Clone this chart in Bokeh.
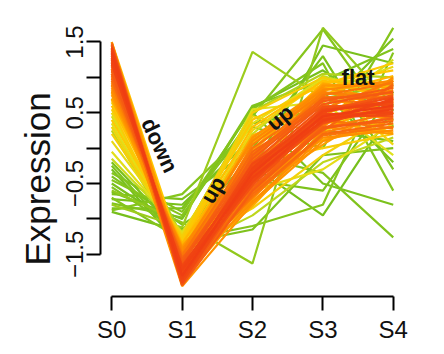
import numpy as np
from bokeh.plotting import figure
from bokeh.models import FixedTicker, Label, Title
from bokeh.embed import file_html
from bokeh.resources import INLINE

# ---------------- data ----------------
stages = ["S0", "S1", "S2", "S3", "S4"]

# expression values per stage, one entry per gene
s0 = [
    # deep red core
    1.35, 1.28, 1.42, 1.20, 1.31, 1.38, 1.25, 1.33, 1.18, 1.40, 1.26, 1.36, 1.22, 1.30, 1.45,
    # red-orange
    1.10, 1.46, 1.05, 1.15, 1.48, 0.98, 1.12, 1.40, 1.02, 1.24, 0.95, 1.34, 1.08, 1.44, 0.90, 1.16, 1.00, 1.37, 0.92, 1.28,
    # orange
    0.85, 1.50, 0.80, 1.12, 0.88, 1.48, 0.75, 1.20, 0.82, 1.38, 0.70, 1.05, 0.95, 1.42, 0.78, 1.18, 0.68, 1.30,
    # yellow
    0.60, 1.50, 0.40, 0.55, 0.20, 1.05, 0.30, 0.65, 0.10, 0.50, -0.05, 0.35, 0.45, -0.15, 0.25, 0.70,
    # green
    -0.80, -0.60, -0.45, -0.88, -0.70, -0.35, -0.55, -0.78, -0.25, -0.65, -0.40, -0.85, -0.20, -0.50, -0.72, -0.30, -0.62, -0.90,
]
s1 = [
    -1.80, -1.72, -1.85, -1.68, -1.77, -1.90, -1.75, -1.82, -1.66, -1.88, -1.70, -1.79, -1.73, -1.84, -1.93,
    -1.62, -1.94, -1.58, -1.70, -1.86, -1.55, -1.64, -1.78, -1.60, -1.90, -1.52, -1.68, -1.57, -1.92, -1.50, -1.80, -1.62, -1.74, -1.48, -1.86,
    -1.45, -1.80, -1.42, -1.95, -1.55, -1.60, -1.40, -1.50, -1.68, -1.62, -1.38, -1.88, -1.44, -1.70, -1.52, -1.92, -1.35, -1.58,
    -1.35, -1.50, -1.30, -1.48, -1.25, -1.40, -1.42, -1.32, -1.22, -1.55, -1.20, -1.38, -1.28, -1.18, -1.45, -1.25,
    -1.12, -1.05, -0.95, -0.65, -1.30, -0.90, -1.20, -0.98, -1.35, -0.72, -1.08, -0.85, -1.25, -1.15, -0.80, -1.40, -1.00, -1.18,
]
s2 = [
    -0.35, -0.42, -0.28, -0.30, -0.48, -0.38, -0.22, -0.45, -0.33, -0.40, -0.26, -0.52, -0.36, -0.30, -0.44,
    -0.20, -0.60, -0.15, -0.55, -0.10, -0.48, -0.05, -0.65, -0.25, -0.58, 0.00, -0.68, -0.12, -0.50, -0.32, -0.62, 0.05, -0.70, -0.08, -0.18,
    0.10, -0.75, -0.40, -0.78, 0.15, -0.70, -0.15, 0.12, -0.60, -0.05, -0.30, -0.72, 0.18, -0.82, -0.02, -0.45, 0.08, -0.35,
    0.30, -0.50, 0.40, -0.20, 0.50, -0.85, 0.25, 0.45, 0.10, -0.60, 0.35, 0.55, -0.35, 0.20, -0.95, 0.52,
    1.36, -1.63, 0.45, 0.30, -1.10, 0.55, -0.10, 0.60, -1.15, 0.00, -0.45, 0.35, 0.50, -0.30, 0.15, -0.80, 0.58, -0.25,
]
s3 = [
    0.45, 0.40, 0.52, 0.38, 0.48, 0.55, 0.42, 0.36, 0.50, 0.44, 0.58, 0.40, 0.47, 0.53, 0.35,
    0.62, 0.28, 0.66, 0.30, 0.70, 0.25, 0.60, 0.20, 0.72, 0.33, 0.68, 0.18, 0.75, 0.40, 0.55, 0.28, 0.78, 0.22, 0.62, 0.80,
    0.82, 0.15, 0.30, 0.10, 0.85, 0.30, 0.88, 0.72, 0.05, 0.90, 0.45, 0.38, 0.60, 0.25, 0.92, 0.12, 0.76, 0.85,
    0.95, 0.92, 0.90, 0.00, 1.00, -0.10, 0.95, 0.20, 0.80, -0.30, 0.98, 0.65, 0.50, 1.02, -0.20, 1.05,
    0.70, 1.70, 1.68, 0.00, -0.80, 1.20, -0.35, 0.95, -0.10, 1.30, -0.60, 0.55, -0.50, 1.45, 0.80, 0.25, 1.10, -0.95,
]
s4 = [
    0.60, 0.55, 0.66, 0.70, 0.50, 0.62, 0.48, 0.58, 0.72, 0.52, 0.64, 0.68, 0.45, 0.75, 0.60,
    0.80, 0.42, 0.85, 0.38, 0.78, 0.90, 0.55, 0.35, 0.70, 0.88, 0.62, 0.30, 0.92, 0.28, 0.95, 0.50, 0.72, 0.45, 0.82, 0.58,
    0.95, 0.25, 1.00, 0.40, 0.68, 0.20, 0.90, 0.48, 0.65, 0.85, 0.98, 0.22, 0.40, 0.70, 0.75, 0.30, 1.02, 0.95,
    0.85, 1.10, 1.20, 0.20, 0.65, 0.50, 0.05, 0.95, 1.15, 0.35, 0.90, -0.10, 1.25, 0.75, 0.15, 1.00,
    0.90, 0.60, 0.30, 1.70, 1.35, -0.60, -1.26, 1.40, 0.00, -0.30, 0.80, 1.55, -0.80, 1.20, -0.20, 0.10, 0.40, 0.55,
]
# cluster membership of each gene
membership = [
    0.95, 0.94, 0.93, 0.93, 0.92, 0.91, 0.91, 0.90, 0.90, 0.89, 0.88, 0.88, 0.87, 0.86, 0.86,
    0.85, 0.84, 0.84, 0.83, 0.83, 0.82, 0.82, 0.81, 0.80, 0.80, 0.79, 0.79, 0.78, 0.78, 0.77, 0.77, 0.76, 0.76, 0.75, 0.75,
    0.74, 0.73, 0.73, 0.72, 0.72, 0.71, 0.71, 0.70, 0.70, 0.69, 0.68, 0.68, 0.67, 0.67, 0.66, 0.66, 0.65, 0.65,
    0.63, 0.62, 0.61, 0.60, 0.59, 0.58, 0.57, 0.56, 0.55, 0.54, 0.53, 0.52, 0.51, 0.50, 0.49, 0.48,
    0.46, 0.45, 0.44, 0.43, 0.42, 0.41, 0.40, 0.39, 0.38, 0.37, 0.36, 0.35, 0.34, 0.33, 0.32, 0.31, 0.30, 0.30,
]

y_ticks_labelled = [-1.5, -0.5, 0.5, 1.5]
y_ticks_unlabelled = [-1.0, 0.0, 1.0]
y_tick_text = ["\u22121.5", "\u22120.5", "0.5", "1.5"]
y_title = "Expression"

notes = ["down", "up", "up", "flat"]
note_x = [0.68, 1.44, 2.39, 3.50]
note_y = [0.04, -0.59, 0.43, 1.00]
note_angle_deg = [-65, 60, 40, 0]

# colour ramp (membership -> colour): green -> yellow -> orange -> red
ramp = ["#76bf1c", "#86c51d", "#dfe11c", "#ffc600", "#ff9200", "#f55a12", "#ef3e12"]
ramp_stops = [0.30, 0.44, 0.52, 0.62, 0.72, 0.85, 0.95]

# ---------------- helpers ----------------
def hex_to_rgb(h):
    h = h.lstrip("#")
    return np.array([int(h[i:i + 2], 16) for i in (0, 2, 4)], dtype=float)

ramp_rgb = np.array([hex_to_rgb(c) for c in ramp])

def colour_for(m):
    rgb = [np.interp(m, ramp_stops, ramp_rgb[:, k]) for k in range(3)]
    return "#%02x%02x%02x" % tuple(int(round(v)) for v in rgb)

vals = np.array([s0, s1, s2, s3, s4]).T
mem = np.array(membership)
order = np.argsort(mem, kind="stable")
xs_pos = list(range(len(stages)))
xs = [xs_pos for _ in order]
ys = [list(vals[i]) for i in order]
cols = [colour_for(mem[i]) for i in order]

# ---------------- figure ----------------
allv = vals.ravel()
ypad = 0.04 * (allv.max() - allv.min())
xpad = 0.04 * (len(stages) - 1)

p = figure(width=444, height=354,
           x_range=(-xpad, len(stages) - 1 + xpad),
           y_range=(allv.min() - ypad, allv.max() + ypad),
           output_backend="svg", toolbar_location=None,
           min_border_left=100, min_border_right=40,
           min_border_top=17, min_border_bottom=58)
p.outline_line_color = None
p.grid.visible = False
p.background_fill_color = "white"
p.border_fill_color = "white"

p.multi_line(xs=xs, ys=ys, line_color=cols, line_width=2.2, line_alpha=1.0)

FONT = "Liberation Sans"

# x axis
p.xaxis.ticker = FixedTicker(ticks=xs_pos)
p.xaxis.major_label_overrides = {i: s for i, s in enumerate(stages)}
p.xaxis.bounds = (0, len(stages) - 1)
# y axis
p.yaxis.ticker = FixedTicker(ticks=y_ticks_labelled, minor_ticks=y_ticks_unlabelled)
p.yaxis.major_label_overrides = {v: t for v, t in zip(y_ticks_labelled, y_tick_text)}
p.yaxis.bounds = (min(y_ticks_labelled), max(y_ticks_labelled))
p.yaxis.major_label_orientation = "vertical"
p.yaxis.minor_tick_out = 14
p.yaxis.minor_tick_in = 0
p.yaxis.minor_tick_line_color = "black"
p.yaxis.minor_tick_line_width = 2
p.xaxis.minor_tick_line_color = None

for ax in (p.xaxis, p.yaxis):
    ax.axis_line_color = "black"
    ax.axis_line_width = 2
    ax.major_tick_line_color = "black"
    ax.major_tick_line_width = 2
    ax.major_tick_out = 14
    ax.major_tick_in = 0
    ax.major_label_text_font = FONT
    ax.major_label_text_font_size = "24px"
    ax.major_label_text_color = "#111111"
p.yaxis.major_label_standoff = 3
p.xaxis.major_label_standoff = 5

# y axis title as a side title so it can be shifted like R's mtext
p.add_layout(Title(text=y_title, align="left", offset=31, standoff=13,
                   text_font=FONT, text_font_size="35px",
                   text_font_style="normal", text_color="#111111"), "left")

for t, x, y, a in zip(notes, note_x, note_y, note_angle_deg):
    p.add_layout(Label(x=x, y=y, text=t, angle=np.deg2rad(a),
                       text_align="center", text_baseline="middle",
                       text_font=FONT, text_font_size="22px",
                       text_font_style="bold", text_color="#111111"))

open("out.html", "w").write(file_html(p, INLINE))
